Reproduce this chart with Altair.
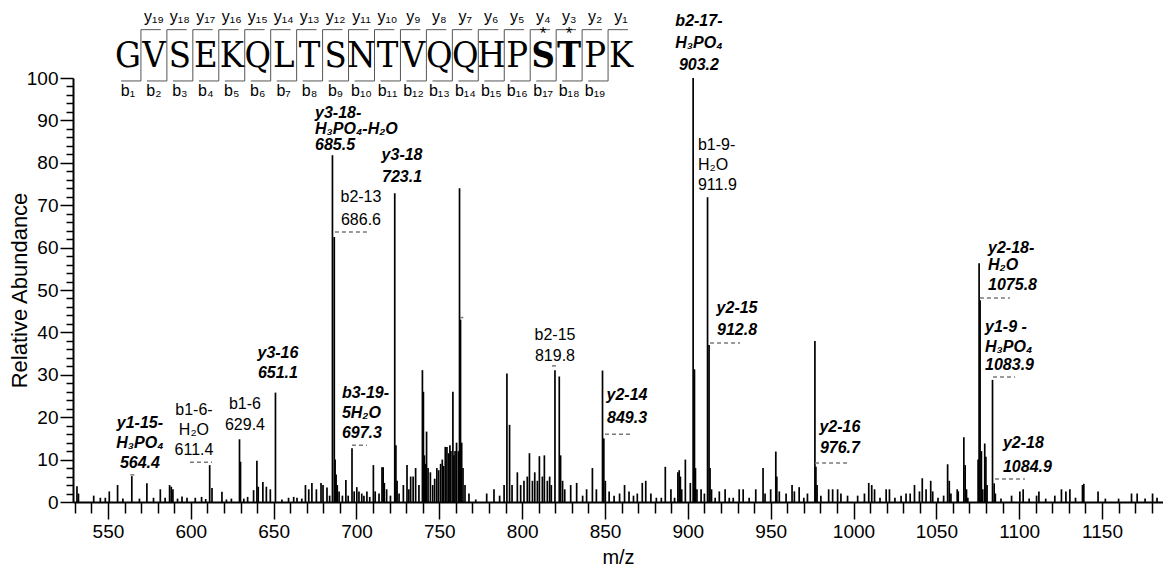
import altair as alt
import pandas as pd

# ---------------- spectrum peaks (m/z, relative abundance) ----------------
peak_mz = [
    531.3, 532.2, 541.4, 545.4, 548.4, 550.8, 555.8, 559.0, 564.4, 569.0, 573.5, 577.5, 581.6, 584.5,
    587.2, 588.2, 589.2, 592.0, 594.7, 597.7,
    602.7, 606.5, 609.0, 611.4, 612.8, 618.8, 621.5, 624.5, 629.4, 630.0, 632.0, 634.3, 637.9, 639.9,
    640.7, 643.5, 645.6, 648.0, 651.1, 655.0, 659.0, 662.1, 664.1, 667.0, 669.2, 671.2, 673.1, 675.8,
    678.6, 679.8, 682.2, 683.8,
    685.5, 686.6, 687.1, 687.7, 688.4, 689.5, 691.5, 693.6, 695.0, 697.3, 698.6, 700.2, 701.5, 703.2,
    704.5, 706.3, 708.0, 710.2, 711.3, 713.6, 715.4, 716.1, 716.8, 718.2, 720.5,
    723.1, 723.8, 724.5, 725.7, 728.3, 730.5, 731.6, 732.7, 734.2, 735.7, 737.7, 739.8, 740.4, 741.0,
    741.7, 742.3, 743.2, 744.6, 746.0, 747.2, 748.5, 749.6, 750.8, 751.8, 752.6, 753.6, 754.6, 755.6,
    756.4, 757.0, 758.2, 758.8, 759.5, 760.4, 761.5, 762.2, 762.8, 763.5, 764.3, 765.5, 767.9,
    772.0, 778.6, 783.0, 786.4, 789.1, 790.8, 792.4, 793.9, 797.1, 799.1, 801.1, 803.1, 804.4, 806.2,
    807.6, 809.2, 810.4, 812.2, 813.4, 815.2, 816.6, 817.6, 819.8, 822.4, 823.2, 824.4, 825.7, 829.3,
    832.9, 836.5, 838.9, 842.4, 844.8,
    848.5, 849.3, 850.2, 852.5, 855.5, 858.8, 861.8, 864.5, 867.2, 869.5, 872.5, 874.6, 877.7, 881.0,
    884.0, 886.4, 889.8, 892.0, 894.0, 894.8, 895.5, 896.3, 898.5, 901.5,
    903.2, 904.0, 904.6, 905.5, 908.0, 910.0, 911.9, 912.8, 913.4, 914.3, 916.5, 919.0, 922.5, 925.0,
    927.4, 931.0, 933.4, 937.0, 941.0, 945.4, 946.6, 950.0, 953.1, 953.7, 955.2, 959.3, 962.9, 964.3,
    967.2, 970.0, 972.2, 976.7, 977.3, 978.0, 980.3, 985.0, 987.4, 990.4, 992.4, 996.4,
    1002.5, 1006.6, 1009.2, 1011.0, 1012.7, 1016.0, 1019.7, 1021.7, 1025.0, 1028.7, 1031.7, 1034.2,
    1036.8, 1039.8, 1041.5, 1043.8, 1046.6, 1047.8, 1051.0, 1054.4, 1056.8, 1057.8, 1058.8, 1062.6,
    1063.2, 1066.6, 1067.4, 1068.2, 1069.0, 1075.2, 1075.8, 1076.4, 1077.2, 1078.0, 1079.2, 1079.9,
    1080.6, 1083.9, 1084.9, 1085.6, 1089.0, 1095.4, 1100.4, 1102.4, 1106.0, 1110.5, 1111.9, 1116.0,
    1121.5, 1125.5, 1128.2, 1130.6, 1134.0, 1138.2, 1139.0, 1147.6, 1152.0, 1160.0, 1167.8, 1171.2,
    1176.0, 1180.5, 1183.2,
]
peak_int = [
    3.7, 2.0, 1.5, 1.0, 1.0, 2.5, 4.0, 0.8, 6.1, 0.8, 4.4, 1.0, 3.0, 1.0,
    4.0, 3.6, 3.0, 0.8, 1.3, 1.0,
    1.0, 1.2, 0.7, 8.7, 3.3, 2.4, 0.6, 0.8, 14.8, 9.5, 0.8, 1.2, 2.8, 9.7,
    3.6, 4.7, 3.6, 3.0, 25.8, 0.6, 1.0, 1.2, 1.0, 0.8, 4.0, 3.0, 4.5, 3.0,
    4.5, 4.0, 3.4, 1.5,
    81.8, 62.5, 10.0, 6.5, 4.0, 2.5, 1.5, 5.2, 1.5, 12.7, 2.5, 3.5, 2.5, 2.0,
    1.5, 2.5, 1.2, 8.7, 2.5, 2.0, 8.2, 8.2, 4.5, 3.0, 1.5,
    72.8, 13.4, 5.0, 2.0, 4.0, 8.7, 3.0, 6.0, 6.0, 8.0, 4.0, 31.1, 26.0, 11.0,
    9.0, 16.6, 8.0, 7.0, 4.0, 5.5, 8.0, 7.5, 9.0, 10.0, 8.5, 13.0, 13.0, 11.5,
    13.4, 12.0, 26.0, 11.0, 12.0, 14.0, 12.0, 74.0, 43.0, 14.0, 8.0, 4.0, 2.0,
    0.6, 2.0, 3.0, 1.5, 4.0, 30.3, 18.2, 4.0, 7.0, 4.0, 5.0, 6.0, 11.5, 5.0,
    7.0, 5.0, 10.8, 6.0, 11.0, 5.0, 6.0, 4.0, 31.1, 29.6, 11.0, 5.0, 3.0, 4.0,
    4.5, 1.5, 3.0, 8.0, 3.0,
    31.0, 15.0, 5.0, 2.5, 1.5, 2.0, 4.0, 2.5, 1.5, 2.0, 4.5, 5.0, 2.0, 1.0,
    1.0, 8.3, 3.0, 1.0, 7.0, 7.5, 6.0, 3.0, 10.0, 4.5,
    100.0, 31.3, 8.0, 3.0, 3.0, 2.0, 71.9, 37.0, 8.0, 3.0, 1.0, 2.5, 3.0, 1.0,
    1.0, 3.0, 3.0, 1.0, 3.0, 8.0, 2.0, 3.0, 11.9, 6.0, 2.5, 2.0, 4.0, 2.5,
    3.5, 1.0, 2.0, 38.0, 8.3, 4.0, 1.5, 3.0, 3.0, 3.0, 2.0, 1.5,
    1.5, 2.0, 4.5, 4.0, 3.0, 1.0, 3.0, 3.0, 1.0, 1.5, 2.0, 2.0,
    4.0, 2.5, 5.6, 3.0, 5.0, 2.5, 1.0, 1.5, 8.9, 5.0, 2.0, 3.0,
    2.5, 15.3, 8.7, 3.0, 1.0, 10.0, 56.3, 47.6, 12.0, 3.0, 13.8, 10.7,
    4.0, 28.8, 4.4, 2.0, 0.8, 1.5, 2.5, 3.0, 0.8, 1.5, 2.5, 0.8,
    1.5, 3.0, 2.5, 3.0, 1.0, 4.0, 4.3, 2.5, 0.8, 0.8, 2.0, 2.0,
    0.8, 2.0, 1.0,
]

# ---------------- peak annotations ----------------
ann_mz = [569.3, 569.3, 569.3, 601.9, 601.9, 601.9, 632.7, 632.7, 652.6, 652.6,
          675.0, 675.0, 675.0, 727.5, 727.5, 702.7, 702.7, 691.2, 691.2, 691.2,
          819.8, 819.8, 863.3, 863.3, 906.7, 906.7, 906.7, 906.1, 906.1, 906.1,
          929.7, 929.7, 991.8, 991.8, 1081.2, 1081.2, 1081.2, 1079.4, 1079.4, 1079.4,
          1090.2, 1090.2]
ann_ab = [18.6, 13.9, 9.2, 21.7, 17.0, 12.3, 23.1, 18.2, 35.1, 30.4,
          91.7, 88.0, 84.2, 81.8, 76.6, 71.9, 66.5, 25.7, 21.0, 16.3,
          39.4, 34.4, 25.2, 19.8, 113.5, 108.3, 103.0, 84.2, 79.5, 74.7,
          45.7, 40.6, 17.7, 12.7, 59.9, 55.9, 51.2, 41.3, 36.5, 32.3,
          13.9, 8.3]
ann_text = ["y1-15-", "H₃PO₄", "564.4", "b1-6-", "H₂O", "611.4", "b1-6", "629.4", "y3-16", "651.1",
            "y3-18-", "H₃PO₄-H₂O", "685.5", "y3-18", "723.1", "b2-13", "686.6", "b3-19-", "5H₂O", "697.3",
            "b2-15", "819.8", "y2-14", "849.3", "b2-17-", "H₃PO₄", "903.2", "b1-9-", "H₂O", "911.9",
            "y2-15", "912.8", "y2-16", "976.7", "y2-18-", "H₂O", "1075.8", "y1-9 -", "H₃PO₄", "1083.9",
            "y2-18", "1084.9"]
ann_bold = [1, 1, 1, 0, 0, 0, 0, 0, 1, 1,
            1, 1, 1, 1, 1, 0, 0, 1, 1, 1,
            0, 0, 1, 1, 1, 1, 1, 0, 0, 0,
            1, 1, 1, 1, 1, 1, 1, 1, 1, 1,
            1, 1]
ann_left = [0, 0, 0, 0, 0, 0, 0, 0, 0, 0,
            1, 1, 1, 0, 0, 0, 0, 1, 1, 1,
            0, 0, 0, 0, 0, 0, 0, 1, 1, 1,
            0, 0, 0, 0, 1, 1, 1, 1, 1, 1,
            1, 1]

# dashed marker lines (start m/z, end m/z, level)
dash_mz = [599.5, 687.0, 697.3, 818.0, 850.0, 913.4, 976.8, 1076.3, 1084.2, 1085.4, 563.5, 762.5]
dash_mz2 = [612.8, 706.3, 706.3, 821.6, 865.1, 931.5, 996.1, 1094.4, 1097.5, 1103.5, 566.5, 764.5]
dash_ab = [9.4, 63.7, 13.4, 32.1, 16.0, 37.5, 9.2, 48.1, 29.5, 5.4, 6.4, 43.5]

# ---------------- peptide fragment ladder ----------------
sequence = list("GVSEKQLTSNTVQQHPSTPK")
phospho_sites = [16, 17]

# layout constants for the ladder (in axis units)
HX0, HSTEP = 562.07, 15.664
ROW_YLAB, ROW_TOP, ROW_LETTER, ROW_BOT, ROW_BLAB, ROW_STAR = 114.4, 111.4, 102.6, 99.3, 97.0, 110.3
BRACKET = 12.0

SUB = str.maketrans("0123456789", "₀₁₂₃₄₅₆₇₈₉")
n = len(sequence)
letter_x = [HX0 + HSTEP * i for i in range(n)]
letters = pd.DataFrame({"mz": letter_x, "ab": [ROW_LETTER] * n, "text": sequence,
                        "bold": [i in phospho_sites for i in range(n)]})
ylabs = pd.DataFrame({"mz": letter_x[1:], "ab": [ROW_YLAB] * (n - 1),
                      "text": ["y" + str(n - i).translate(SUB) for i in range(1, n)]})
blabs = pd.DataFrame({"mz": letter_x[:-1], "ab": [ROW_BLAB] * (n - 1),
                      "text": ["b" + str(i + 1).translate(SUB) for i in range(n - 1)]})
stars = pd.DataFrame({"mz": [letter_x[i] for i in phospho_sites], "ab": [ROW_STAR] * len(phospho_sites),
                      "text": ["*"] * len(phospho_sites)})
bounds = [HX0 + HSTEP * (i - 0.5) for i in range(1, n)]
vlines = pd.DataFrame({"mz": bounds, "ab": [ROW_BOT] * len(bounds), "ab2": [ROW_TOP] * len(bounds)})
tlines = pd.DataFrame({"mz": bounds, "mz2": [b + BRACKET for b in bounds], "ab": [ROW_TOP] * len(bounds)})
blines = pd.DataFrame({"mz": [b - BRACKET for b in bounds], "mz2": bounds, "ab": [ROW_BOT] * len(bounds)})

# ---------------- chart ----------------
SANS = "Liberation Sans, Arial, sans-serif"
SERIF = "DejaVu Serif Condensed, DejaVu Serif, serif"

xscale = alt.Scale(domain=[528.9, 1186.8], nice=False, zero=False)
yscale = alt.Scale(domain=[0, 100], nice=False, zero=False)

xaxis = alt.Axis(
    values=list(range(530, 1190, 10)),
    format="d",
    labelExpr="datum.value % 50 === 0 ? datum.label : ''",
    tickSize=17,
    tickDash={"condition": {"test": "datum.value % 50 !== 0", "value": [11, 40]}, "value": [40, 1]},
    labelOverlap=False, labelFlush=False, grid=False, title="m/z",
    labelPadding=3, titlePadding=6,
)
yaxis = alt.Axis(
    values=list(range(0, 101, 2)),
    format="d",
    labelExpr="datum.value % 10 === 0 ? datum.label : ''",
    tickSize=13,
    tickDash={"condition": {"test": "datum.value % 10 !== 0", "value": [7, 40]}, "value": [40, 1]},
    labelOverlap=False, labelFlush=False, grid=False, title="Relative Abundance",
    labelPadding=2, titleX=-42, titleY=212, titleAngle=270, titleAlign="center",
    titleBaseline="bottom",
)

spec = pd.DataFrame({"mz": peak_mz, "ab": peak_int, "base": [0.0] * len(peak_mz)})
ann = pd.DataFrame({"mz": ann_mz, "ab": ann_ab, "text": ann_text, "bold": ann_bold, "left": ann_left})
dashes = pd.DataFrame({"mz": dash_mz, "mz2": dash_mz2, "ab": dash_ab})


def X(f="mz"):
    return alt.X(f"{f}:Q", scale=xscale, axis=xaxis, title="m/z")


def Y(f="ab"):
    return alt.Y(f"{f}:Q", scale=yscale, axis=yaxis, title="Relative Abundance")


bars = alt.Chart(spec).mark_rule(color="black", strokeWidth=1.7).encode(
    x=X(), y=Y(), y2="base:Q",
)

layers = [bars]
for b in (0, 1):
    for lf in (0, 1):
        sub = ann[(ann["bold"] == b) & (ann["left"] == lf)]
        if len(sub) == 0:
            continue
        layers.append(
            alt.Chart(sub).mark_text(
                font=SANS, fontSize=16,
                fontWeight="bold" if b else "normal",
                fontStyle="italic" if b else "normal",
                align="left" if lf else "center", baseline="middle", color="black",
            ).encode(x=X(), y=Y(), text="text:N")
        )

layers.append(
    alt.Chart(dashes).mark_rule(color="#7a7a7a", strokeWidth=1.5, strokeDash=[4, 3]).encode(
        x=X(), x2="mz2:Q", y=Y())
)

# ladder
layers.append(alt.Chart(vlines).mark_rule(color="#555555", strokeWidth=1).encode(x=X(), y=Y(), y2="ab2:Q"))
layers.append(alt.Chart(tlines).mark_rule(color="#555555", strokeWidth=1).encode(x=X(), x2="mz2:Q", y=Y()))
layers.append(alt.Chart(blines).mark_rule(color="#555555", strokeWidth=1).encode(x=X(), x2="mz2:Q", y=Y()))
layers.append(
    alt.Chart(letters[~letters["bold"]]).mark_text(
        font=SERIF, fontSize=36, baseline="alphabetic", align="center", color="black").encode(
        x=X(), y=Y(), text="text:N")
)
layers.append(
    alt.Chart(letters[letters["bold"]]).mark_text(
        font=SERIF, fontSize=36, fontWeight="bold", baseline="alphabetic", align="center", color="black").encode(
        x=X(), y=Y(), text="text:N")
)
layers.append(
    alt.Chart(stars).mark_text(font=SANS, fontSize=17, baseline="middle", align="center", color="black").encode(
        x=X(), y=Y(), text="text:N")
)
layers.append(
    alt.Chart(ylabs).mark_text(font=SANS, fontSize=16, baseline="middle", align="center", color="black").encode(
        x=X(), y=Y(), text="text:N")
)
layers.append(
    alt.Chart(blabs).mark_text(font=SANS, fontSize=16, baseline="middle", align="center", color="black").encode(
        x=X(), y=Y(), text="text:N")
)

chart = alt.layer(*layers).properties(
    width=1090, height=424,
    padding={"left": 65, "top": 70, "right": 0, "bottom": 67},
    autosize=alt.AutoSizeParams(type="none"),
).configure_view(stroke=None).configure_axis(
    domainColor="black", domainWidth=2, tickColor="black", tickWidth=1.5,
    labelColor="black", titleColor="black", labelFont=SANS, labelFontSize=19,
).configure_axisX(
    titleFont=SANS, titleFontSize=20, titleFontWeight="normal",
).configure_axisY(
    titleFont=SANS, titleFontSize=22, titleFontWeight="normal",
)

chart.save("out.html", embed_options={"renderer": "svg", "actions": False})
